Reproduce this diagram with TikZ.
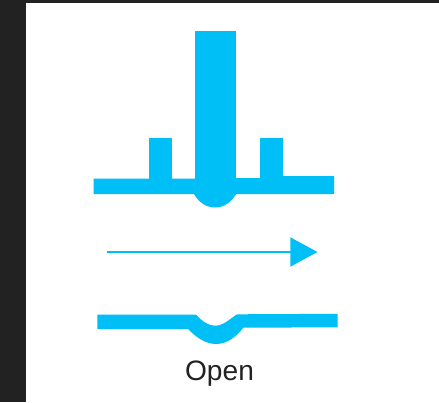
\documentclass[tikz,border=0pt]{standalone}
\usepackage{fontspec}
\setmainfont{Liberation Sans}
\usetikzlibrary{arrows.meta}
\definecolor{flowblue}{HTML}{00BFF7}
\definecolor{framegray}{HTML}{222222}
\tikzset{blade/.style={fill=flowblue,draw=none}}
\begin{document}
\begin{tikzpicture}[x=0.02cm,y=-0.02cm]
\useasboundingbox (0,0) rectangle (439,402);
\fill[framegray] (0,0) rectangle (439,402);
\fill[white] (26,3) rectangle (439,402);
\fill[blade] (195,31) rectangle (236,195);
\fill[blade] (149,138) rectangle (172,180);
\fill[blade] (259.5,137.5) rectangle (282.5,178);
\fill[blade] (93.5,178.7) -- (195,178.7) -- (236,178.2) -- (282.5,178.2) -- (282.5,176) -- (334,176) -- (334,194) -- (236,194)
  .. controls (231,203) and (223,207.5) .. (215,207.5)
  .. controls (207,207.5) and (199,203) .. (194,194) -- (93.5,194) -- cycle;
\coordinate (flowstart) at (107,252);
\coordinate (flowend) at (317.5,252);
\draw[flowblue,line width=1.1pt,-{Triangle[length=15.5pt,width=16.5pt]}] (flowstart) -- (flowend);
\fill[blade] (97.3,314.7) -- (196,314.7)
  .. controls (202,321) and (208,325.7) .. (215,325.7)
  .. controls (223,325.7) and (230,319) .. (237,314.3) -- (337.7,313.8) -- (337.7,327.3) -- (243.3,327.7)
  .. controls (236,337) and (227,344) .. (216,344)
  .. controls (205,344) and (196,337) .. (188,329) -- (97.3,329) -- cycle;
\node[font=\fontsize{16}{18}\selectfont,text=framegray,inner sep=0pt] (openlabel) at (219.5,374) {Open};
\end{tikzpicture}
\end{document}
